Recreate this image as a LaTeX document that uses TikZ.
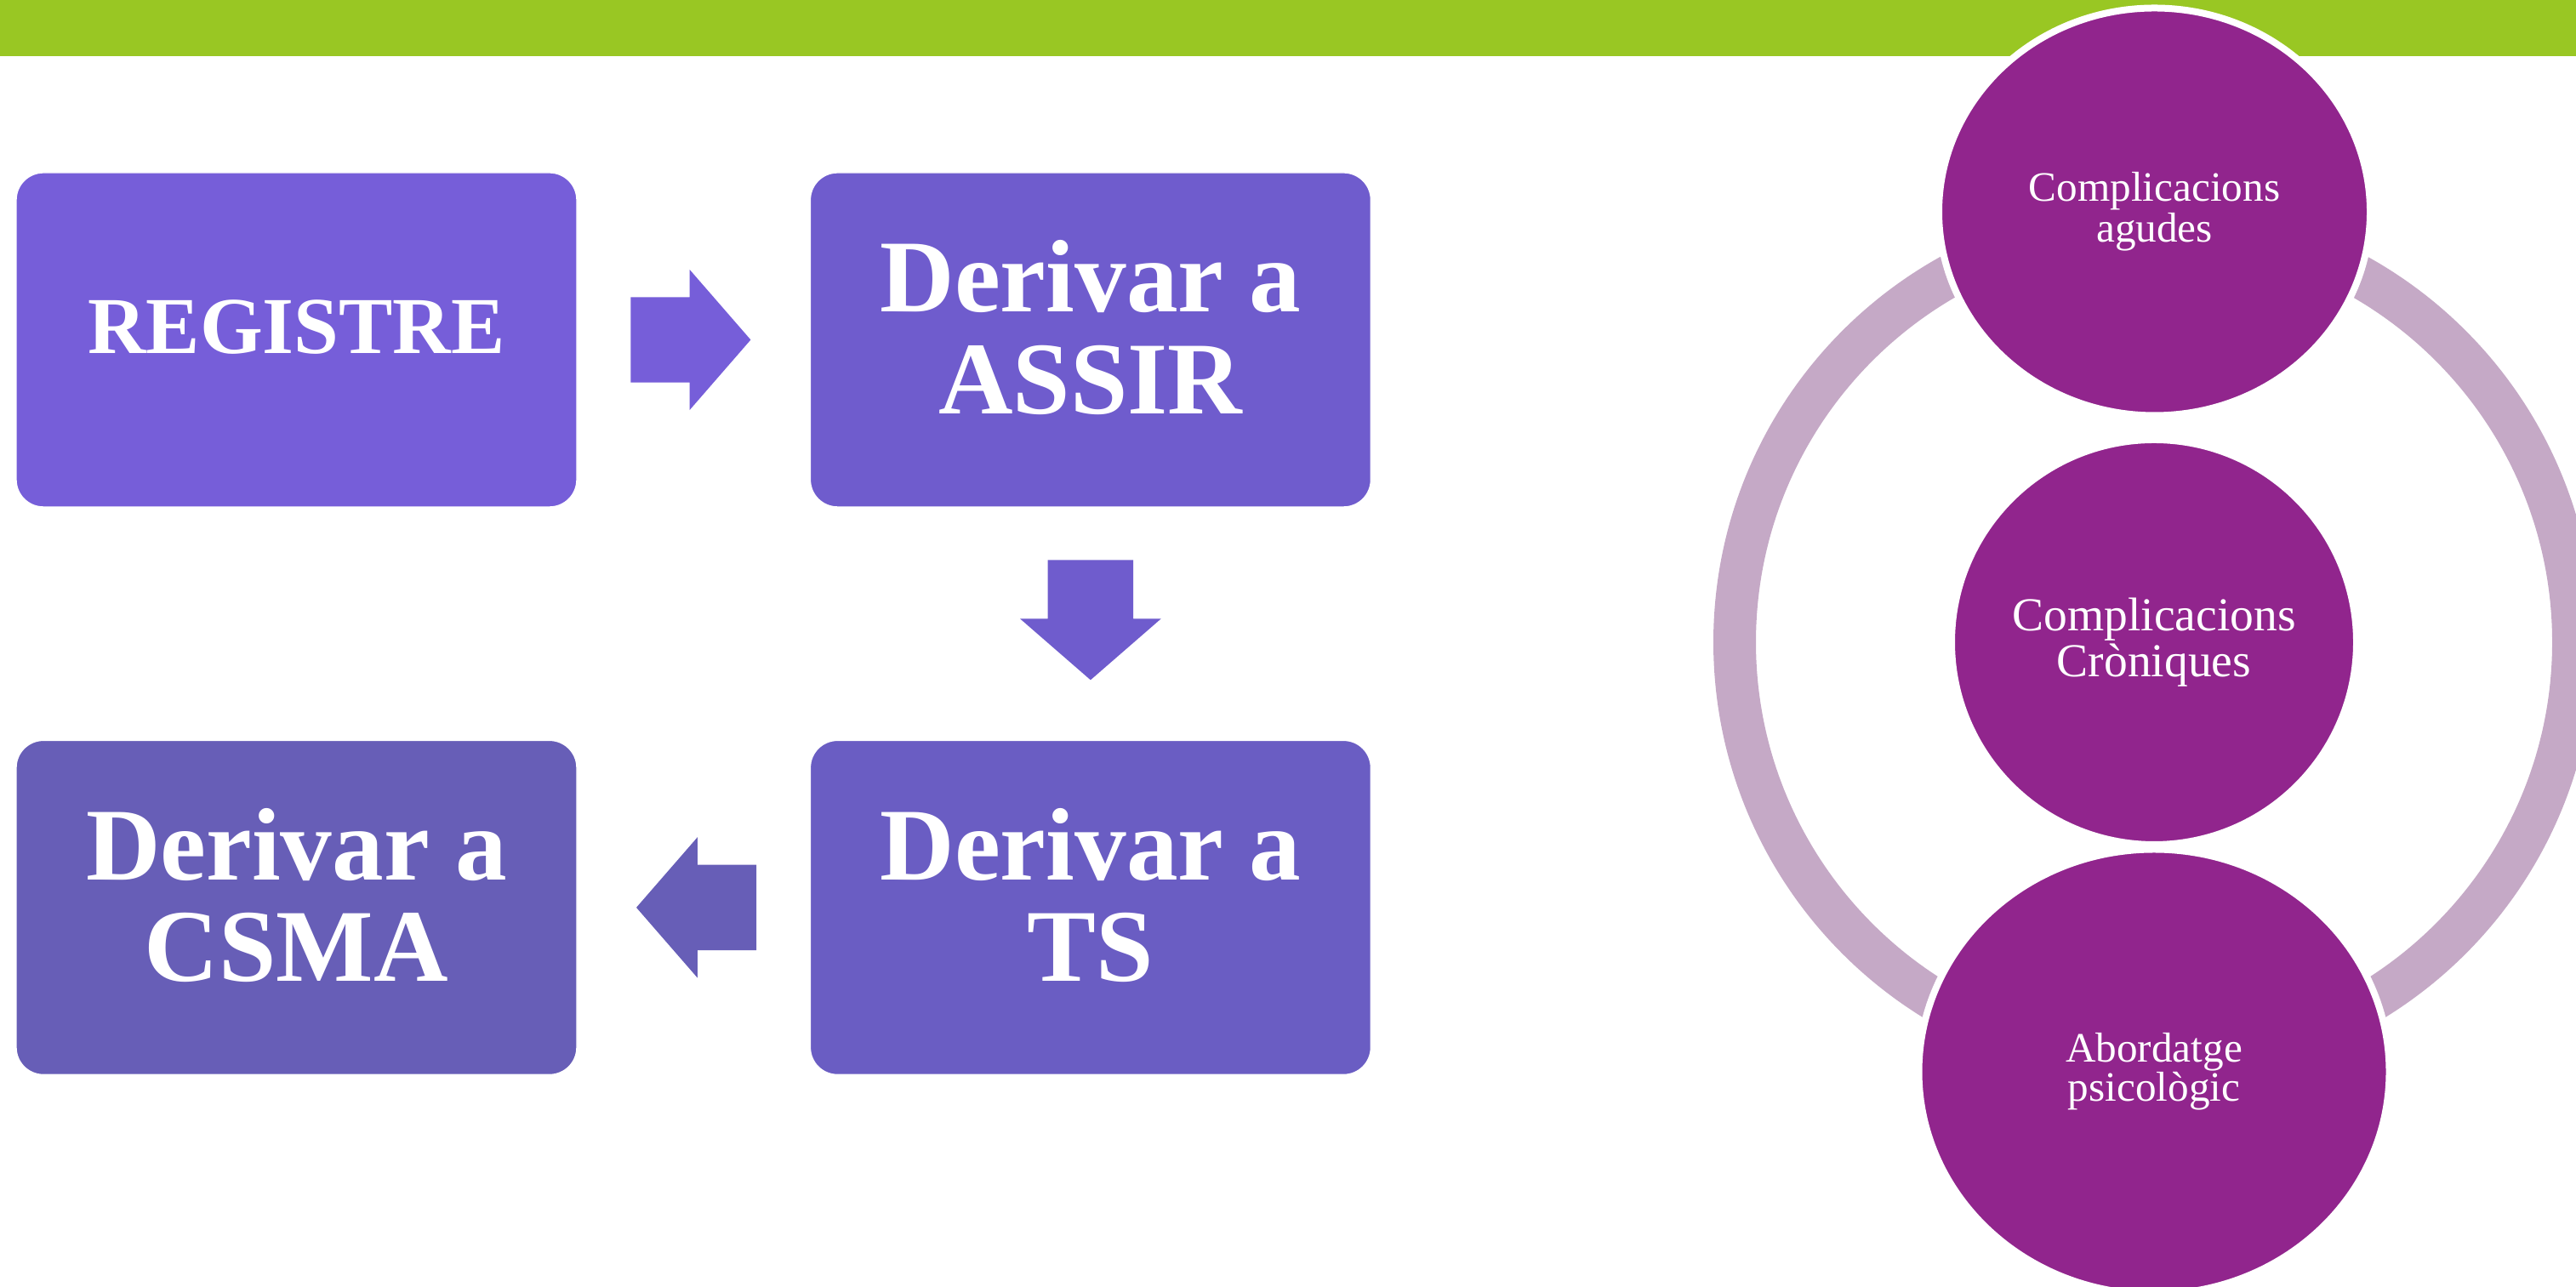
\documentclass[tikz,border=0pt]{standalone}
\usepackage{fontspec}
\setmainfont{Liberation Serif}
\usetikzlibrary{positioning,calc,shapes.geometric,shapes.arrows}
\definecolor{topgreen}{HTML}{99C723}
\definecolor{boxone}{HTML}{765ED9}
\definecolor{boxtwo}{HTML}{6F5CCD}
\definecolor{boxthree}{HTML}{6A5DC3}
\definecolor{boxfour}{HTML}{675EB7}
\definecolor{plum}{HTML}{91258D}
\definecolor{ringlilac}{HTML}{C5A9C6}

\begin{document}
\begin{tikzpicture}[node distance=2.73cm,
  stepbox/.style={draw=white, line width=0.4pt, rounded corners=0.32cm, minimum width=6.59cm, minimum height=3.93cm, align=center, text=white, font=\fontsize{34.5}{34}\selectfont\bfseries, text depth=0.3cm},
  blockarrow/.style={single arrow, single arrow head extend=0.325cm, single arrow tip angle=98, minimum height=1.41cm, inner xsep=0pt, inner ysep=0.495cm, anchor=tail},
  bubble/.style={ellipse, draw=white, line width=0.08cm, fill=plum, text=white, align=center, inner sep=0pt}]
  \useasboundingbox (0,0) rectangle (30.28,15.13);
  \fill[topgreen] (0,14.47) rectangle (30.28,15.13);
  % flow of boxes
  \node[stepbox, fill=boxone, font=\fontsize{27}{28}\selectfont\bfseries] (registre) at (3.485,11.135) {REGISTRE};
  \node[stepbox, fill=boxtwo, right=of registre] (assir) {Derivar a\\ASSIR};
  \node[stepbox, fill=boxthree, below=of assir] (ts) {Derivar a\\TS};
  \node[stepbox, fill=boxfour, left=of ts] (csma) {Derivar a\\CSMA};
  \node[blockarrow, fill=boxone] (toassir) at ($(registre.east)+(0.62,0)$) {};
  \node[blockarrow, fill=boxtwo, shape border rotate=270, inner xsep=0.495cm, inner ysep=0pt] (tots) at ($(assir.south)+(0,-0.61)$) {};
  \node[blockarrow, fill=boxfour, shape border rotate=180] (tocsma) at ($(ts.west)+(-0.62,0)$) {};
  % cycle of complications
  \draw[ringlilac, line width=0.5cm] (25.32,7.58) circle (4.93);
  \node[bubble, minimum width=5.07cm, minimum height=4.79cm, font=\fontsize{14}{12.5}\selectfont] (agudes) at (25.325,12.64) {Complicacions\\agudes};
  \node[bubble, minimum width=4.76cm, minimum height=4.76cm, font=\fontsize{15.8}{14}\selectfont] (croniques) at (25.32,7.58) {Complicacions\\Cròniques};
  \node[bubble, minimum width=5.53cm, minimum height=5.23cm, font=\fontsize{14}{13}\selectfont] (psico) at (25.32,2.53) {Abordatge\\psicològic};
\end{tikzpicture}
\end{document}
